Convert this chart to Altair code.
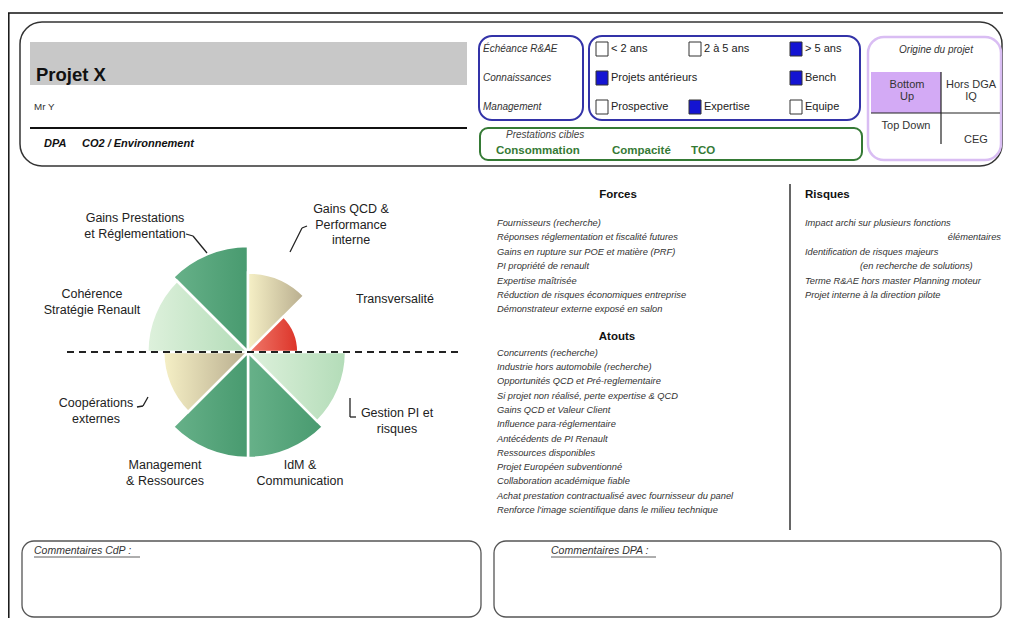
import math
import altair as alt
import pandas as pd

FONT = "Liberation Sans"
W, H = 995, 610
OFF = 8  # page margin: page coordinate -> chart coordinate

# ------------------------------------------------------------------ data
axis_names = [
    "Gains QCD &\nPerformance\ninterne",
    "Transversalité",
    "Gestion PI et\nrisques",
    "IdM &\nCommunication",
    "Management\n& Ressources",
    "Coopérations\nexternes",
    "Cohérence\nStratégie Renault",
    "Gains Prestations\net Réglementation",
]
axis_scores = [3.0, 1.9, 3.7, 4.0, 4.0, 3.2, 3.8, 4.0]
axis_tones = ["beige", "red", "light", "dark", "dark", "beige", "light", "dark"]

forces = [
    "Fournisseurs (recherche)",
    "Réponses réglementation et fiscalité futures",
    "Gains en rupture sur POE et matière (PRF)",
    "PI propriété de renault",
    "Expertise maîtrisée",
    "Réduction de risques économiques entreprise",
    "Démonstrateur externe exposé en salon",
]
atouts = [
    "Concurrents (recherche)",
    "Industrie hors automobile (recherche)",
    "Opportunités QCD et Pré-reglementaire",
    "Si projet non réalisé, perte expertise & QCD",
    "Gains QCD et Valeur Client",
    "Influence para-réglementaire",
    "Antécédents de PI Renault",
    "Ressources disponibles",
    "Projet Européen subventionné",
    "Collaboration académique fiable",
    "Achat prestation contractualisé avec fournisseur du panel",
    "Renforce l'image scientifique dans le milieu technique",
]
risques = [
    "Impact archi sur plusieurs fonctions",
    "élémentaires",
    "Identification de risques majeurs",
    "(en recherche de solutions)",
    "Terme R&AE hors master Planning moteur",
    "Projet interne à la direction pilote",
]

row_titles = ["Échéance R&AE", "Connaissances", "Management"]
check_labels = ["< 2 ans", "2 à 5 ans", "> 5 ans",
                "Projets antérieurs", "Bench",
                "Prospective", "Expertise", "Equipe"]
check_state = [False, False, True, True, True, False, True, False]
check_row = [0, 0, 0, 1, 1, 2, 2, 2]
check_col = [0, 1, 2, 0, 2, 0, 1, 2]

prestations = ["Consommation", "Compacité", "TCO"]
origine_cells = ["Bottom\nUp", "Hors DGA\nIQ", "Top Down", "CEG"]

# ------------------------------------------------------------------ helpers
one = pd.DataFrame({"k": [0]})


def P(v):
    return v - OFF


def box(x1, y1, x2, y2, stroke="#333", sw=1.5, r=10, fill="white"):
    return alt.Chart(one).mark_rect(
        cornerRadius=r, stroke=stroke, strokeWidth=sw, fill=fill
    ).encode(x=alt.value(P(x1)), x2=alt.value(P(x2)),
             y=alt.value(P(y1)), y2=alt.value(P(y2)))


def rule(x1, y1, x2, y2, color="#222", sw=1.2, dash=None):
    kw = dict(color=color, strokeWidth=sw)
    if dash:
        kw["strokeDash"] = dash
    return alt.Chart(one).mark_rule(**kw).encode(
        x=alt.value(P(x1)), x2=alt.value(P(x2)),
        y=alt.value(P(y1)), y2=alt.value(P(y2)))


def texts(lines, xs, ys, **kw):
    # ys give the centre of the first line of each text
    df = pd.DataFrame({"t": lines, "x": [P(v) for v in xs], "y": [P(v) for v in ys]})
    base = dict(font=FONT, baseline="middle", align="left", fontSize=10,
                color="#222", lineBreak="\n")
    base.update(kw)
    return alt.Chart(df).mark_text(**base).encode(
        x=alt.X("x:Q", scale=None, axis=None),
        y=alt.Y("y:Q", scale=None, axis=None),
        text="t:N")


layers = []

# outer frame
layers.append(rule(8, 13, 1003, 13, color="#111", sw=1.5))
layers.append(rule(8.8, 13, 8.8, 626, color="#111", sw=1.5))

# ------------------------------------------------------------------ header
layers.append(box(20, 22, 1002, 166, stroke="#333", sw=1.5, r=22))
layers.append(box(30, 42, 467, 85, stroke="#c8c8c8", sw=0, r=0, fill="#c8c8c8"))
layers.append(texts(["Projet X"], [36], [75], fontSize=18.5, fontWeight="bold", color="#111"))
layers.append(texts(["Mr Y"], [34], [107], fontSize=9.8, color="#333"))
layers.append(rule(30, 128, 467, 128, color="#111", sw=2))
layers.append(texts(["DPA"], [44], [144], fontSize=11, fontWeight="bold", fontStyle="italic", color="#111"))
layers.append(texts(["CO2 / Environnement"], [82], [144], fontSize=11, fontWeight="bold", fontStyle="italic", color="#111"))

BLUE = "#3333a8"
layers.append(box(479, 36, 583, 120, stroke=BLUE, sw=2, r=13))
layers.append(box(589, 36, 860, 120, stroke=BLUE, sw=2, r=13))
row_y = [49, 78, 107]
layers.append(texts(row_titles, [483] * 3, row_y, fontSize=10, fontStyle="italic", color="#333"))

col_x = [596, 689, 790]
cb = pd.DataFrame({"label": check_labels, "checked": check_state,
                   "r": check_row, "c": check_col})
cb["x1"] = [P(col_x[c]) for c in cb["c"]]
cb["x2"] = cb["x1"] + 12
cb["y1"] = [P(row_y[r]) - 7 for r in cb["r"]]
cb["y2"] = cb["y1"] + 14
cb["tx"] = cb["x2"] + 3
cb["ty"] = cb["y1"] + 7
layers.append(alt.Chart(cb).mark_rect(stroke="#333", strokeWidth=1).encode(
    x=alt.X("x1:Q", scale=None, axis=None), x2="x2:Q",
    y=alt.Y("y1:Q", scale=None, axis=None), y2="y2:Q",
    fill=alt.condition("datum.checked", alt.value("#1414d2"), alt.value("white"))))
layers.append(alt.Chart(cb).mark_text(font=FONT, fontSize=11, align="left",
                                      baseline="middle", color="#222").encode(
    x=alt.X("tx:Q", scale=None, axis=None),
    y=alt.Y("ty:Q", scale=None, axis=None), text="label:N"))

GREEN = "#357a35"
layers.append(box(480, 128, 862, 160, stroke=GREEN, sw=2, r=8))
layers.append(texts(["Prestations cibles"], [506], [135], fontSize=10, fontStyle="italic", color="#444"))
layers.append(texts(prestations, [496, 612, 691], [151] * 3, fontSize=11.5, fontWeight="bold", color=GREEN))

PURPLE = "#d9bdf3"
layers.append(box(868, 37, 1001, 160, stroke=PURPLE, sw=2.5, r=16))
layers.append(box(871, 72, 941, 113, stroke="#d3aaf5", sw=0, r=0, fill="#d3aaf5"))
layers.append(rule(871, 113, 1000, 113, color="#222", sw=1.2))
layers.append(rule(941, 72, 941, 144, color="#222", sw=1.2))
layers.append(texts(["Origine du projet"], [936], [50], fontSize=10, fontStyle="italic", color="#333", align="center"))
layers.append(texts(origine_cells, [907, 971, 906, 976], [85, 85, 126, 140],
                    fontSize=11, color="#333", align="center", lineHeight=12))

# ------------------------------------------------------------------ rose
CX, CY = 248, 352
rose = pd.DataFrame({"axis": axis_names, "score": axis_scores,
                     "tone": axis_tones, "i": list(range(len(axis_names)))})
tone_stops = {
    "dark": ["#67b189", "#489a6f"],
    "light": ["#def1dc", "#b3dcb8"],
    "beige": ["#f6f0c6", "#b8ad8e"],
    "red": ["#f07a6c", "#dc3328"],
}
for tone, (c0, c1) in tone_stops.items():
    grad = alt.LinearGradient(
        gradient="linear",
        stops=[alt.GradientStop(color=c0, offset=0), alt.GradientStop(color=c1, offset=1)],
        x1=0, x2=1, y1=0, y2=0)
    layers.append(
        alt.Chart(rose)
        .transform_filter(alt.datum.tone == tone)
        .transform_calculate(t0="datum.i", t1="datum.i + 1")
        .mark_arc(fill=grad, stroke="white", strokeWidth=2.5)
        .encode(
            x=alt.value(P(CX)), y=alt.value(P(CY)),
            theta=alt.Theta("t0:Q", scale=alt.Scale(domain=[0, 8], range=[0, 2 * math.pi])),
            theta2="t1:Q",
            radius=alt.Radius("score:Q", scale=alt.Scale(type="linear", domain=[0, 4],
                                                         range=[0, 106], zero=True)),
        )
    )

layers.append(rule(67, 352, 463, 352, color="#222", sw=2, dash=[7, 5]))

label_x = [351, 395, 397, 300, 165, 96, 92, 135]
label_y = [209, 299, 413, 465, 465, 403, 294, 218]
layers.append(texts(axis_names, label_x, label_y, fontSize=12.5, color="#222",
                    align="center", lineHeight=15.5))

# connectors
for seg in [
    (186, 234, 193, 236), (193, 236, 207, 253),
    (307, 226, 302, 228), (302, 228, 290, 252),
    (137, 407, 143, 406), (143, 406, 148, 397),
    (350, 398, 350, 417), (350, 417, 356, 417),
]:
    layers.append(rule(*seg, color="#222", sw=1.3))

# ------------------------------------------------------------------ lists
layers.append(texts(["Forces"], [618], [195], fontSize=11.5, fontWeight="bold", align="center", color="#111"))
layers.append(texts(forces, [497] * len(forces), [223 + 14.4 * k for k in range(len(forces))],
                    fontSize=9.3, fontStyle="italic", color="#333"))
layers.append(texts(["Atouts"], [617], [337], fontSize=11.5, fontWeight="bold", align="center", color="#111"))
layers.append(texts(atouts, [497] * len(atouts), [352.7 + 14.3 * k for k in range(len(atouts))],
                    fontSize=9.3, fontStyle="italic", color="#333"))

layers.append(rule(790, 184, 790, 530, color="#333", sw=1.5))
layers.append(texts(["Risques"], [805], [195], fontSize=11.5, fontWeight="bold", color="#111"))
rx = [805, 1001, 805, 860, 805, 805]
ra = ["left", "right", "left", "left", "left", "left"]
ry = [223 + 14.4 * k for k in range(len(risques))]
for t, x, y, a in zip(risques, rx, ry, ra):
    layers.append(texts([t], [x], [y], fontSize=9.3, fontStyle="italic", color="#333", align=a))

# ------------------------------------------------------------------ comments
layers.append(box(22, 541, 481, 617, stroke="#555", sw=1.3, r=12))
layers.append(box(494, 541, 1001, 617, stroke="#555", sw=1.3, r=12))
layers.append(texts(["Commentaires CdP :"], [34], [551], fontSize=10.5, fontStyle="italic", color="#333"))
layers.append(rule(34, 557, 140, 557, color="#333", sw=0.8))
layers.append(texts(["Commentaires DPA :"], [551], [551], fontSize=10.5, fontStyle="italic", color="#333"))
layers.append(rule(551, 557, 656, 557, color="#333", sw=0.8))

chart = (
    alt.layer(*layers)
    .properties(width=W, height=H, autosize=alt.AutoSizeParams(type="none"), padding=0,
                background="white")
    .configure_view(stroke=None)
)

chart.save("out.html", embed_options={"renderer": "svg", "actions": False})
